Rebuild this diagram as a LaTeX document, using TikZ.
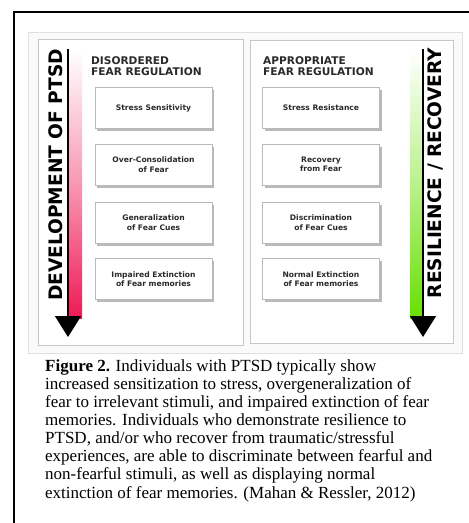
\documentclass[tikz,border=0pt]{standalone}
\usepackage{fontspec}
\setmainfont{Liberation Serif}
\newfontfamily\figsans{DejaVu Sans}
\usetikzlibrary{arrows.meta,shadows}

\definecolor{ptsdred}{HTML}{EE1A55}
\definecolor{recgreen}{HTML}{66E000}
\definecolor{labelink}{HTML}{2A2A2A}

\begin{document}
\begin{tikzpicture}[x=1pt, y=-1pt,
    panel/.style={draw=gray!45, line width=0.8pt, fill=white},
    outerpanel/.style={draw=gray!25, line width=0.8pt, fill=gray!4},
    fearbox/.style={draw=gray!55, fill=white, align=center, minimum width=117pt, minimum height=41pt,
        text=labelink, font=\figsans\bfseries\fontsize{7.6}{9.4}\selectfont,
        drop shadow={shadow xshift=2pt, shadow yshift=-2.5pt, opacity=0.55}},
    heading/.style={anchor=north west, align=left, inner sep=0pt, text=labelink,
        font=\figsans\bfseries\fontsize{10.6}{11}\selectfont},
    sidelabel/.style={rotate=90, inner sep=0pt, font=\figsans\bfseries\fontsize{18.6}{20}\selectfont},
    trackarrow/.style={line width=1.6pt, -{Triangle[width=26pt,length=21pt]}}
]
    \useasboundingbox (0,0) rectangle (469,523);
    \draw[line width=2pt] (14,523) -- (14,12) -- (469,12);

    \draw[outerpanel] (28,32) rectangle (462,353);
    \draw[panel] (38,39) rectangle (243,345);
    \draw[panel] (250,40) rectangle (453,343);

    \node[heading] (disordered) at (91,56) {DISORDERED\\FEAR REGULATION};
    \node[heading] (appropriate) at (263,56) {APPROPRIATE\\FEAR REGULATION};

    \node[fearbox] (sensitivity) at (153.5,108) {Stress Sensitivity};
    \node[fearbox] (overcons) at (153.5,164.5) {Over-Consolidation\\of Fear};
    \node[fearbox] (general) at (153.5,222.5) {Generalization\\of Fear Cues};
    \node[fearbox] (impaired) at (153.5,279) {Impaired Extinction\\of Fear memories};

    \node[fearbox] (resistance) at (321,108) {Stress Resistance};
    \node[fearbox] (recovery) at (321,164.5) {Recovery\\from Fear};
    \node[fearbox] (discrim) at (321,222.5) {Discrimination\\of Fear Cues};
    \node[fearbox] (normal) at (321,279) {Normal Extinction\\of Fear memories};

    \shade[top color=white, bottom color=ptsdred, middle color=ptsdred!45] (68,50) rectangle (82,318);
    \shade[top color=white, bottom color=recgreen, middle color=recgreen!45] (410,50) rectangle (423,318);
    \coordinate (devtop) at (68,49);
    \coordinate (devtip) at (68,337);
    \coordinate (restop) at (423,49);
    \coordinate (restip) at (423,337);
    \draw[trackarrow] (devtop) -- (devtip);
    \draw[trackarrow] (restop) -- (restip);

    \node[sidelabel] (devlabel) at (55.5,175) {DEVELOPMENT OF PTSD};
    \node[sidelabel] (reslabel) at (435.5,173) {RESILIENCE / RECOVERY};

    \node[anchor=base west, align=left, inner sep=0pt, font=\fontsize{17}{18.1}\selectfont] (caption) at (45,498)
        {\textbf{Figure 2.} Individuals with PTSD typically show\\
        increased sensitization to stress, overgeneralization of\\
        fear to irrelevant stimuli, and impaired extinction of fear\\
        memories. Individuals who demonstrate resilience to\\
        PTSD, and/or who recover from traumatic/stressful\\
        experiences, are able to discriminate between fearful and\\
        non-fearful stimuli, as well as displaying normal\\
        extinction of fear memories. (Mahan \& Ressler, 2012)};
\end{tikzpicture}
\end{document}
